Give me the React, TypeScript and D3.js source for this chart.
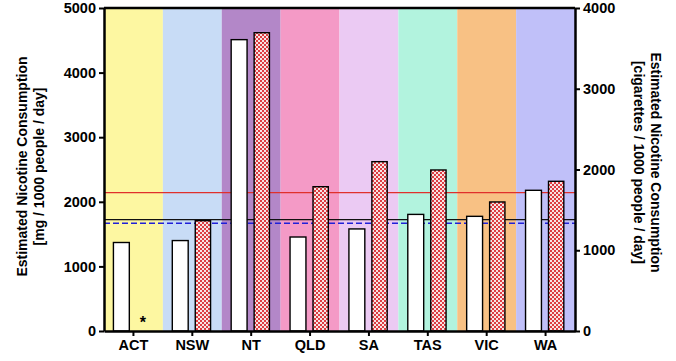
import { useEffect, useRef } from 'react'
import * as d3 from 'd3'

const states = ['ACT', 'NSW', 'NT', 'QLD', 'SA', 'TAS', 'VIC', 'WA']
const bandColors = ['#fdf7a1', '#c8dcf6', '#b387c8', '#f49ac6', '#ebcaf3', '#b2f3de', '#f8c184', '#c0c0f9']
// wastewater estimate, mg / 1000 people / day (left axis)
const nicotineMg = [1370, 1400, 4510, 1455, 1580, 1805, 1775, 2178]
// cigarettes / 1000 people / day (right axis); ACT has no value
const cigarettes: (number | null)[] = [null, 1366, 3694, 1787, 2097, 1994, 1598, 1854]
const leftTicks = [0, 1000, 2000, 3000, 4000, 5000]
const rightTicks = [0, 1000, 2000, 3000, 4000]
const redLineCig = 1713
const blackLineMg = 1723
const blueLineMg = 1667

export default function App() {
  const svgRef = useRef<SVGSVGElement>(null)

  useEffect(() => {
    if (!svgRef.current) return
    const svg = d3.select(svgRef.current)
    svg.selectAll('*').remove()

    const width = 676
    const height = 361
    const margin = { top: 8, right: 101, bottom: 30, left: 104 }
    const x0 = margin.left
    const x1 = width - margin.right
    const y0 = height - margin.bottom
    const font = 'Liberation Sans, Arial, Helvetica, sans-serif'

    svg.attr('width', width).attr('height', height).attr('viewBox', `0 0 ${width} ${height}`)

    // checker pattern for the red bars
    const defs = svg.append('defs')
    const pat = defs.append('pattern')
      .attr('id', 'checks')
      .attr('width', 4)
      .attr('height', 4)
      .attr('patternUnits', 'userSpaceOnUse')
    pat.append('rect').attr('width', 4).attr('height', 4).attr('fill', '#f7e4e4')
    pat.append('rect').attr('width', 2).attr('height', 2).attr('fill', '#dd3d42')
    pat.append('rect').attr('x', 2).attr('y', 2).attr('width', 2).attr('height', 2).attr('fill', '#dd3d42')

    const x = d3.scaleBand().domain(states).range([x0, x1]).padding(0)
    const yL = d3.scaleLinear().domain([0, 5000]).range([y0, margin.top])
    const yR = d3.scaleLinear().domain([0, 4000]).range([y0, margin.top])
    const bw = x.bandwidth()

    // background bands
    svg.append('g').selectAll('rect')
      .data(states)
      .enter()
      .append('rect')
      .attr('x', d => x(d)!)
      .attr('y', margin.top)
      .attr('width', bw)
      .attr('height', y0 - margin.top)
      .attr('fill', (d, i) => bandColors[i])

    // reference lines
    const lines = svg.append('g')
    lines.append('line')
      .attr('x1', x0).attr('x2', x1)
      .attr('y1', yR(redLineCig)).attr('y2', yR(redLineCig))
      .attr('stroke', '#e0302c').attr('stroke-width', 1.2)
    lines.append('line')
      .attr('x1', x0).attr('x2', x1)
      .attr('y1', yL(blackLineMg)).attr('y2', yL(blackLineMg))
      .attr('stroke', '#111').attr('stroke-width', 1.2)
    lines.append('line')
      .attr('x1', x0).attr('x2', x1)
      .attr('y1', yL(blueLineMg)).attr('y2', yL(blueLineMg))
      .attr('stroke', '#2020d8').attr('stroke-width', 1.4)
      .attr('stroke-dasharray', '6,3')

    // white bars (mg)
    svg.append('g').selectAll('rect')
      .data(states)
      .enter()
      .append('rect')
      .attr('x', d => x(d)! + bw * 0.16)
      .attr('y', (d, i) => yL(nicotineMg[i]))
      .attr('width', bw * 0.27)
      .attr('height', (d, i) => y0 - yL(nicotineMg[i]))
      .attr('fill', '#fff')
      .attr('stroke', '#000')
      .attr('stroke-width', 1.4)

    // checkered bars (cigarettes)
    svg.append('g').selectAll('rect')
      .data(states.filter((d, i) => cigarettes[i] != null))
      .enter()
      .append('rect')
      .attr('x', d => x(d)! + bw * 0.55)
      .attr('y', d => yR(cigarettes[states.indexOf(d)]!))
      .attr('width', bw * 0.26)
      .attr('height', d => y0 - yR(cigarettes[states.indexOf(d)]!))
      .attr('fill', 'url(#checks)')
      .attr('stroke', '#000')
      .attr('stroke-width', 1.4)

    // asterisk for missing ACT value
    svg.append('text')
      .attr('x', x('ACT')! + bw * 0.66)
      .attr('y', y0 - 3)
      .attr('text-anchor', 'middle')
      .attr('font-family', font)
      .attr('font-weight', 'bold')
      .attr('font-size', '16px')
      .text('*')

    // top frame line
    svg.append('line')
      .attr('x1', x0).attr('x2', x1)
      .attr('y1', margin.top).attr('y2', margin.top)
      .attr('stroke', '#000').attr('stroke-width', 2.5)

    const styleAxis = (g: d3.Selection<SVGGElement, unknown, null, undefined>) => {
      g.select('.domain').attr('stroke', '#000').attr('stroke-width', 2.5)
      g.selectAll('.tick line').attr('stroke', '#000').attr('stroke-width', 2)
      g.selectAll('.tick text')
        .attr('font-family', font)
        .attr('font-weight', 'bold')
        .attr('font-size', '14.5px')
        .attr('fill', '#000')
    }

    svg.append('g')
      .attr('transform', `translate(${x0},0)`)
      .call(d3.axisLeft(yL).tickValues(leftTicks).tickFormat(d3.format('d')).tickSize(5).tickPadding(3).tickSizeOuter(0))
      .call(styleAxis)

    svg.append('g')
      .attr('transform', `translate(${x1},0)`)
      .call(d3.axisRight(yR).tickValues(rightTicks).tickFormat(d3.format('d')).tickSize(5).tickPadding(3).tickSizeOuter(0))
      .call(styleAxis)

    svg.append('g')
      .attr('transform', `translate(0,${y0})`)
      .call(d3.axisBottom(x).tickSize(5).tickPadding(4).tickSizeOuter(0))
      .call(styleAxis)

    // axis titles
    const midY = (margin.top + y0) / 2
    const leftTitle = svg.append('text')
      .attr('transform', `translate(27,${midY - 3}) rotate(-90)`)
      .attr('text-anchor', 'middle')
      .attr('font-family', font)
      .attr('font-weight', 'bold')
      .attr('font-size', '14px')
    leftTitle.append('tspan').attr('x', 0).attr('dy', 0).text('Estimated Nicotine Consumption')
    leftTitle.append('tspan').attr('x', 0).attr('dy', 17).text('[mg / 1000 people / day]')

    const rightTitle = svg.append('text')
      .attr('transform', `translate(651,${midY - 7}) rotate(90)`)
      .attr('text-anchor', 'middle')
      .attr('font-family', font)
      .attr('font-weight', 'bold')
      .attr('font-size', '14px')
    rightTitle.append('tspan').attr('x', 0).attr('dy', 0).text('Estimated Nicotine Consumption')
    rightTitle.append('tspan').attr('x', 0).attr('dy', 17).text('[cigarettes / 1000 people / day]')
  }, [])

  return (
    <div style={{ position: 'absolute', left: 0, top: 0, background: '#fff' }}>
      <svg ref={svgRef} width={676} height={361} style={{ display: 'block' }} />
    </div>
  )
}
